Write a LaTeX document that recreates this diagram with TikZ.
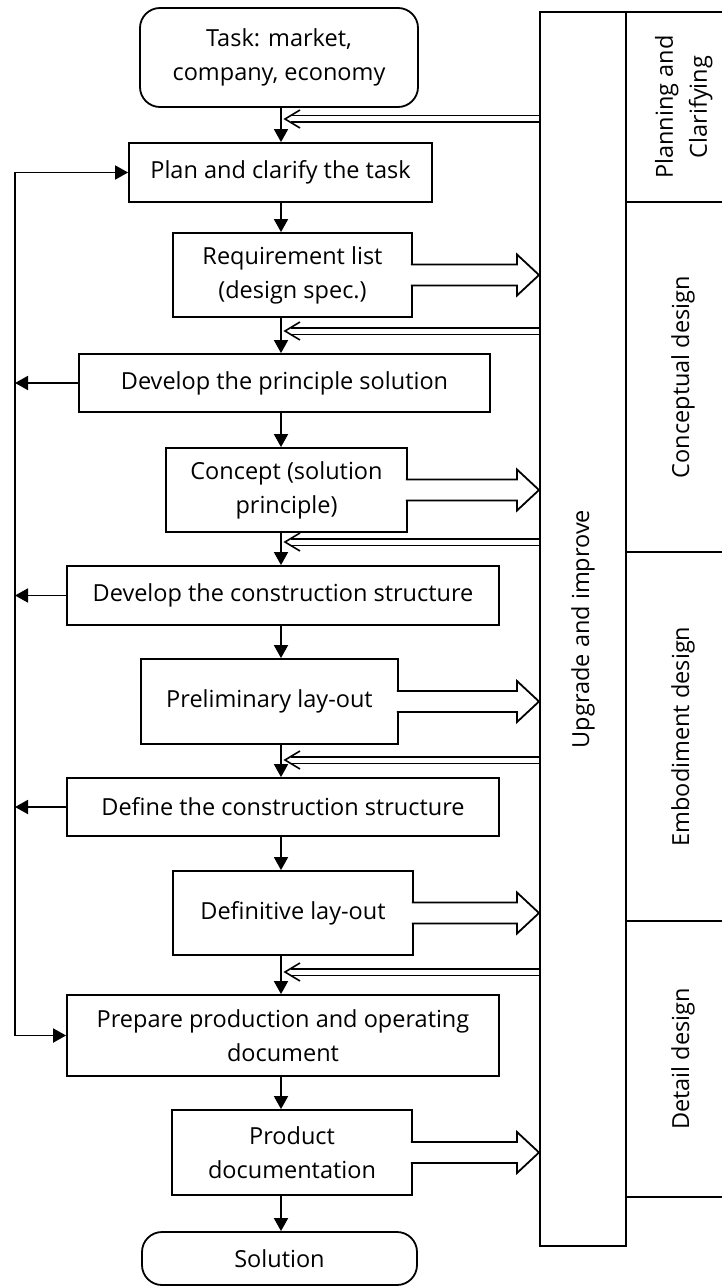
\documentclass[tikz,border=0pt]{standalone}
\usepackage{fontspec}
\setmainfont{Open Sans}
\usepackage{graphicx}
\usetikzlibrary{arrows.meta,calc}
% open block arrow from a box to the upgrade column
\newcommand{\outarrow}[1]{%
	\filldraw[line width=1.8pt,fill=white]
		($(#1.east)+(-2,-10.5)$) -- ($(#1.east -| upgrade.west)+(-22,-10.5)$)
		-- ($(#1.east -| upgrade.west)+(-22,-20.5)$) -- (#1.east -| upgrade.west)
		-- ($(#1.east -| upgrade.west)+(-22,20.5)$) -- ($(#1.east -| upgrade.west)+(-22,10.5)$)
		-- ($(#1.east)+(-2,10.5)$);}
\begin{document}
\begin{tikzpicture}[x=1pt,y=-1pt,
		box/.style={draw,line width=1.8pt,align=center,inner sep=0pt,font={\fontsize{23.5}{34}\selectfont}},
		term/.style={box,rounded corners=20pt},
		lane/.style={draw,line width=2pt,inner sep=0pt,font={\fontsize{23.5}{34}\selectfont}},
		flow/.style={line width=1.8pt,-{Triangle[length=13pt,width=14pt]}},
		back/.style={line width=1.6pt,double,double distance=5pt},
		chevron/.style={line width=1.6pt,line join=miter}]
		\useasboundingbox (0,0) rectangle (721,1287);
		\coordinate (spine) at (281,0);
		\coordinate (rail) at (15,0);
		% main flow
		\node[term,minimum width=278pt,minimum height=99pt](task) at (279,57.5){Task: market,\\company, economy};
		\node[box,minimum width=303pt,minimum height=59pt](plan) at (280.5,172.5){Plan and clarify the task};
		\node[box,minimum width=239pt,minimum height=84pt](req) at (292.5,275){Requirement list\\(design spec.)};
		\node[box,minimum width=411pt,minimum height=58pt](principle) at (284.5,383){Develop the principle solution};
		\node[box,minimum width=241pt,minimum height=84pt](concept) at (286.5,490){Concept (solution\\principle)};
		\node[box,minimum width=432pt,minimum height=59pt](devcons) at (283,595.5){Develop the construction structure};
		\node[box,minimum width=257pt,minimum height=85pt](prelim) at (269.5,701.5){Preliminary lay-out};
		\node[box,minimum width=432pt,minimum height=58pt](defcons) at (283,807){Define the construction structure};
		\node[box,minimum width=240pt,minimum height=84pt](definitive) at (293,913){Definitive lay-out};
		\node[box,minimum width=432pt,minimum height=81pt](prepare) at (283,1035.5){Prepare production and operating\\document};
		\node[box,minimum width=240pt,minimum height=85pt](product) at (292,1152.5){Product\\documentation};
		\node[term,minimum width=275pt,minimum height=53pt](solution) at (279.5,1258.5){Solution};
		% columns
		\node[lane,minimum width=86pt,minimum height=1234pt](upgrade) at (583,629){\rotatebox{90}{Upgrade and improve}};
		\node[lane,minimum width=114pt,minimum height=190pt](planning) at (683,107){\rotatebox{90}{\begin{tabular}{@{}c@{}}Planning and\\Clarifying\end{tabular}}};
		\node[lane,minimum width=114pt,minimum height=350pt](conceptual) at (683,377){\rotatebox{90}{Conceptual design}};
		\node[lane,minimum width=114pt,minimum height=369pt](embodiment) at (683,736.5){\rotatebox{90}{Embodiment design}};
		\node[lane,minimum width=114pt,minimum height=276pt](detail) at (683,1059){\rotatebox{90}{Detail design}};
		\path[flow]
		(task.south -| spine) edge (plan.north -| spine)
		(plan.south -| spine) edge (req.north -| spine)
		(req.south -| spine) edge (principle.north -| spine)
		(principle.south -| spine) edge (concept.north -| spine)
		(concept.south -| spine) edge (devcons.north -| spine)
		(devcons.south -| spine) edge (prelim.north -| spine)
		(prelim.south -| spine) edge (defcons.north -| spine)
		(defcons.south -| spine) edge (definitive.north -| spine)
		(definitive.south -| spine) edge (prepare.north -| spine)
		(prepare.south -| spine) edge (product.north -| spine)
		(product.south -| spine) edge (solution.north -| spine);
		% feedback loop on the left
		\draw[flow] (plan.west -| rail) |- (prepare.west);
		\draw[flow] (prepare.west -| rail) |- (plan.west);
		\foreach \n in {principle,devcons,defcons}
			\draw[flow] (\n.west) -- (\n.west -| rail);
		% results go up, improvements come back
		\foreach \n in {req,concept,prelim,definitive,product}
			\outarrow{\n};
		\foreach \y [count=\i] in {119,331,542,760,972}
			\coordinate (ret\i) at (540,\y);
		\foreach \i in {1,...,5}{
			\draw[back] (upgrade.west |- ret\i) -- ($(ret\i -| spine)+(10,0)$);
			\draw[chevron] ($(ret\i -| spine)+(19,-9)$) -- ($(ret\i -| spine)+(4,0)$) -- ($(ret\i -| spine)+(19,9)$);}
	\end{tikzpicture}
\end{document}
